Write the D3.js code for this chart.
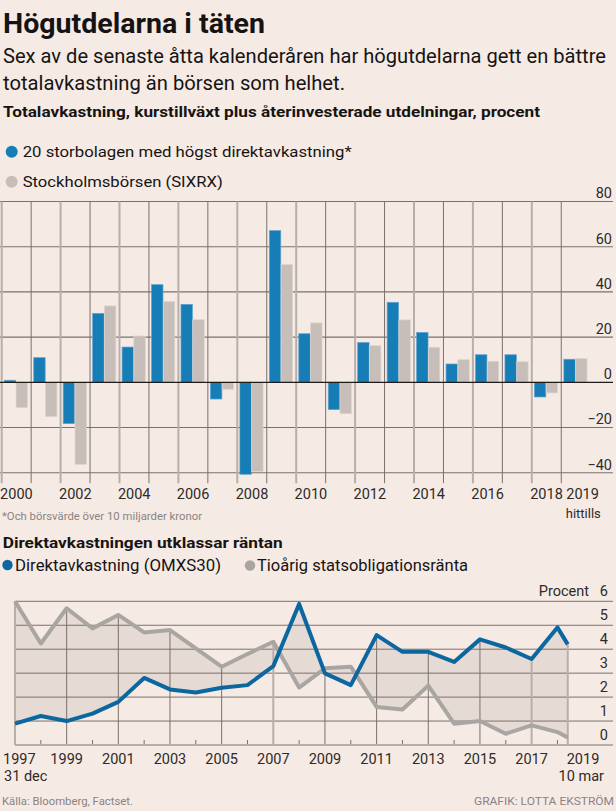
<!DOCTYPE html>
<html><head><meta charset="utf-8">
<script src="https://cdn.jsdelivr.net/npm/d3@7"></script>
<style>
html,body{margin:0;padding:0;background:#f6eae5;}
svg{display:block;font-family:Roboto,"Noto Sans",sans-serif;}
</style></head>
<body>
<svg id="c" width="616" height="811"></svg>
<script>
// ---------- Data ----------
const barYears = d3.range(2000, 2020);
const highYield = [0.9, 10.9, -18.3, 30.5, 15.6, 43.2, 34.5, -7.4, -40.7, 67.1, 21.5, -12.1, 17.6, 35.4, 22.1, 8.1, 12.2, 12.2, -6.5, 10.2];
const sixrx     = [-11.2, -15.2, -36.3, 33.8, 20.5, 35.8, 27.7, -3.1, -39.4, 52.1, 26.3, -13.9, 16.2, 27.6, 15.5, 10.0, 9.3, 9.1, -4.7, 10.5];
const barTicks = [-40, -20, 0, 20, 40, 60, 80];
const barTickLabels = ["\u221240", "\u221220", "0", "20", "40", "60", "80"];
const barXLabels = [2000, 2002, 2004, 2006, 2008, 2010, 2012, 2014, 2016, 2018];

const lineX = [1997, 1998, 1999, 2000, 2001, 2002, 2003, 2004, 2005, 2006, 2007, 2008, 2009, 2010, 2011, 2012, 2013, 2014, 2015, 2016, 2017, 2018, 2018.4];
const divYield = [0.89, 1.21, 1.0, 1.31, 1.80, 2.80, 2.32, 2.19, 2.39, 2.50, 3.29, 5.89, 2.99, 2.50, 4.59, 3.89, 3.89, 3.47, 4.41, 4.07, 3.59, 4.91, 4.20];
const bondYield = [6.0, 4.24, 5.71, 4.87, 5.43, 4.70, 4.80, 4.03, 3.27, 3.80, 4.31, 2.40, 3.20, 3.27, 1.59, 1.48, 2.48, 0.89, 1.0, 0.47, 0.82, 0.54, 0.31];
const lineYTicks = [0, 1, 2, 3, 4, 5, 6];
const lineXLabels = [1999, 2001, 2003, 2005, 2007, 2009, 2011, 2013, 2015, 2017];

// ---------- Colours ----------
const C = {
  text: "#161412", tick: "#2e2a28", muted: "#8a8380",
  blueBar: "#167db6", blueBarEdge: "#5ea3cf", greyBar: "#c7beba", greyBarEdge: "#ddd5d1",
  gridDark: "#7a706c", gridGrey: "#b8aeaa",
  blueLine: "#0c67a0", greyLine: "#a9a5a3", area: "#e6dad4"
};

const svg = d3.select("#c");

function txt(x, y, s, o) {
  const t = svg.append("text").attr("x", x).attr("y", y).text(s)
    .attr("font-size", o.size).attr("fill", o.fill || C.text)
    .attr("font-weight", o.weight || 400)
    .attr("text-anchor", o.anchor || "start");
  if (o.len) t.attr("textLength", o.len).attr("lengthAdjust", "spacingAndGlyphs");
  return t;
}

// ---------- Header ----------
txt(3, 32.7, "Högutdelarna i täten", {size: 28, weight: 700, len: 262});
txt(3, 63.3, "Sex av de senaste åtta kalenderåren har högutdelarna gett en bättre", {size: 19.5, len: 603});
txt(3, 90, "totalavkastning än börsen som helhet.", {size: 19.5, len: 342});
txt(3, 117.3, "Totalavkastning, kurstillväxt plus återinvesterade utdelningar, procent", {size: 14.5, weight: 700, len: 537});

svg.append("circle").attr("cx", 11.7).attr("cy", 151.7).attr("r", 6).attr("fill", C.blueBar);
txt(22.7, 156.7, "20 storbolagen med högst direktavkastning*", {size: 15.5, len: 329});
svg.append("circle").attr("cx", 11.7).attr("cy", 181.7).attr("r", 6).attr("fill", C.greyBar);
txt(22.7, 187.3, "Stockholmsbörsen (SIXRX)", {size: 15.5, len: 200});

// ---------- Bar chart ----------
const bx = d3.scaleBand().domain(barYears).range([1.7, 1.7 + 20 * 29.45]).padding(0);
const bx1 = d3.scaleBand().domain(["a", "b"]).range([2.6, 25.8]).paddingInner(0.03);
const by = d3.scaleLinear().domain([-40, 80]).range([472.7, 201.5]);

const gB = svg.append("g");
// horizontal grid
gB.selectAll("line.h").data(barTicks.filter(d => d !== 0)).join("line")
  .attr("x1", 0).attr("x2", 613).attr("y1", d => by(d)).attr("y2", d => by(d))
  .attr("stroke", C.gridDark).attr("stroke-width", 1.1);
// vertical grid
gB.selectAll("line.v").data(barYears).join("line")
  .attr("x1", d => bx(d)).attr("x2", d => bx(d))
  .attr("y1", by(80)).attr("y2", by(-40) + 10.5)
  .attr("stroke", d => d % 2 === 0 ? C.gridGrey : C.gridDark)
  .attr("stroke-width", d => d % 2 === 0 ? 2 : 1);

const barData = barYears.map((y, i) => ({year: y, a: highYield[i], b: sixrx[i]}));
const grp = gB.selectAll("g.bar").data(barData).join("g").attr("transform", d => `translate(${bx(d.year)},0)`);
grp.append("rect")
  .attr("x", bx1("a")).attr("width", bx1.bandwidth())
  .attr("y", d => by(Math.max(0, d.a))).attr("height", d => Math.abs(by(d.a) - by(0)))
  .attr("fill", C.blueBar).attr("stroke", C.blueBarEdge).attr("stroke-width", 0.7);
grp.append("rect")
  .attr("x", bx1("b")).attr("width", bx1.bandwidth())
  .attr("y", d => by(Math.max(0, d.b))).attr("height", d => Math.abs(by(d.b) - by(0)))
  .attr("fill", C.greyBar).attr("stroke", C.greyBarEdge).attr("stroke-width", 0.7);

// zero line
gB.append("line").attr("x1", 0).attr("x2", 613).attr("y1", by(0)).attr("y2", by(0))
  .attr("stroke", "#1e1a18").attr("stroke-width", 1.3);

// y tick labels
gB.selectAll("text.yt").data(barTicks).join("text")
  .attr("x", 612).attr("y", d => by(d) - 3.2).attr("text-anchor", "end")
  .attr("font-size", 14.5).attr("fill", C.tick)
  .text((d, i) => barTickLabels[i]);

// x labels
gB.selectAll("text.xt").data(barXLabels).join("text")
  .attr("x", d => bx(d) + bx.bandwidth() / 2).attr("y", 499.3).attr("text-anchor", "middle")
  .attr("font-size", 14.5).attr("fill", C.tick).text(d => d);
txt(bx(2019) + 5, 499.3, "2019", {size: 14.5, fill: C.tick});
txt(bx(2019) + 4.5, 518, "hittills", {size: 13, fill: C.tick});

txt(2, 520, "*Och börsvärde över 10 miljarder kronor", {size: 11, fill: C.muted, len: 200});

// ---------- Line chart ----------
txt(2.7, 548.3, "Direktavkastningen utklassar räntan", {size: 15.5, weight: 700, len: 280});
svg.append("circle").attr("cx", 7.5).attr("cy", 565).attr("r", 5.2).attr("fill", C.blueLine);
txt(15, 571, "Direktavkastning (OMXS30)", {size: 17, len: 206});
svg.append("circle").attr("cx", 250).attr("cy", 565.5).attr("r", 5.2).attr("fill", C.greyLine);
txt(257, 571, "Tioårig statsobligationsränta", {size: 17, len: 211});

const lx = d3.scaleLinear().domain([1997, 2017]).range([15, 531.6]);
const ly = d3.scaleLinear().domain([0, 6]).range([745, 601.3]);
const lineData = lineX.map((x, i) => ({x, a: divYield[i], b: bondYield[i]}));
const gL = svg.append("g");

// area between
gL.append("path").datum(lineData)
  .attr("d", d3.area().x(d => lx(d.x)).y0(d => ly(d.a)).y1(d => ly(d.b)))
  .attr("fill", C.area);

// horizontal grid
gL.selectAll("line.h").data(lineYTicks.filter(d => d > 0)).join("line")
  .attr("x1", 15).attr("x2", 613).attr("y1", d => ly(d)).attr("y2", d => ly(d))
  .attr("stroke", C.gridDark).attr("stroke-width", 1);

// vertical grid at labelled years + endpoints
const vData = lineData.filter(d => (Number.isInteger(d.x) && d.x % 2 === 1) || d === lineData[lineData.length - 1]);
const greyV = new Set([1997, 2007, 2017, lineX[lineX.length - 1]]);
gL.selectAll("line.v").data(vData).join("line")
  .attr("x1", d => lx(d.x)).attr("x2", d => lx(d.x))
  .attr("y1", d => ly(Math.max(d.a, d.b))).attr("y2", ly(0))
  .attr("stroke", d => greyV.has(d.x) ? C.gridGrey : C.gridDark)
  .attr("stroke-width", d => greyV.has(d.x) ? 2 : 1);
// minor ticks at even years
gL.selectAll("line.m").data(lineData.filter(d => Number.isInteger(d.x) && d.x % 2 === 0)).join("line")
  .attr("x1", d => lx(d.x)).attr("x2", d => lx(d.x))
  .attr("y1", ly(0) - 5).attr("y2", ly(0))
  .attr("stroke", C.gridDark).attr("stroke-width", 1);
// axis line
gL.append("line").attr("x1", 15).attr("x2", 613).attr("y1", ly(0)).attr("y2", ly(0))
  .attr("stroke", C.gridGrey).attr("stroke-width", 2);

// lines
gL.append("path").datum(lineData)
  .attr("d", d3.line().x(d => lx(d.x)).y(d => ly(d.b)))
  .attr("fill", "none").attr("stroke", C.greyLine).attr("stroke-width", 4).attr("stroke-linejoin", "round");
gL.append("path").datum(lineData)
  .attr("d", d3.line().x(d => lx(d.x)).y(d => ly(d.a)))
  .attr("fill", "none").attr("stroke", C.blueLine).attr("stroke-width", 4).attr("stroke-linejoin", "round");

// y labels
gL.selectAll("text.yt").data(lineYTicks).join("text")
  .attr("x", 608).attr("y", d => ly(d) - 5).attr("text-anchor", "end")
  .attr("font-size", 14.5).attr("fill", C.tick).text(d => d);
txt(589, ly(6) - 5, "Procent", {size: 14.5, fill: C.tick, anchor: "end"});

// x labels
txt(3, 764, "1997", {size: 14.5, fill: C.tick});
txt(4, 780.5, "31 dec", {size: 14.5, fill: C.tick});
gL.selectAll("text.xt").data(lineXLabels).join("text")
  .attr("x", d => lx(d)).attr("y", 764).attr("text-anchor", "middle")
  .attr("font-size", 14.5).attr("fill", C.tick).text(d => d);
txt(583, 764, "2019", {size: 14.5, fill: C.tick, anchor: "middle"});
txt(604, 780.5, "10 mar", {size: 14.5, fill: C.tick, anchor: "end"});

// footer
txt(2, 805.3, "Källa: Bloomberg, Factset.", {size: 11, fill: C.muted, len: 131});
txt(614, 805.3, "GRAFIK: LOTTA EKSTRÖM", {size: 11, fill: C.muted, anchor: "end", len: 140});
</script>
</body></html>
